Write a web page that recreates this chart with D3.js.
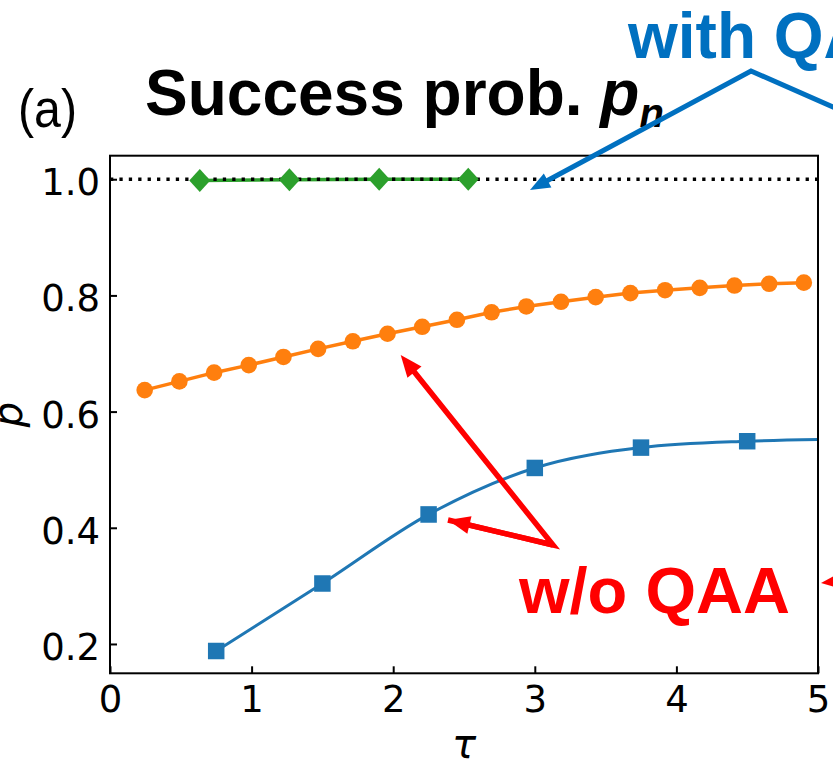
<!DOCTYPE html>
<html>
<head>
<meta charset="utf-8">
<script src="https://cdn.jsdelivr.net/npm/d3@7"></script>
<style>
  body { margin: 0; background: #fff; }
  svg { display: block; }
</style>
</head>
<body>
<svg id="chart" width="833" height="765"></svg>
<script>
// values
let tauGreen = [0.634, 1.267, 1.901, 2.530];
let pGreen = [0.998, 0.999, 1.0, 1.0];

let tauOrange = [0.245, 0.49, 0.735, 0.98, 1.225, 1.47, 1.715, 1.96, 2.205, 2.45,
  2.695, 2.94, 3.185, 3.43, 3.675, 3.92, 4.165, 4.41, 4.655, 4.9];
let pOrange = [0.637, 0.652, 0.667, 0.680, 0.694, 0.708, 0.721, 0.734, 0.746, 0.758,
  0.771, 0.781, 0.789, 0.797, 0.804, 0.809, 0.813, 0.817, 0.820, 0.822];

let tauBlue = [0.75, 1.5, 2.25, 3.0, 3.75, 4.5];
let pBlue = [0.188, 0.304, 0.423, 0.503, 0.538, 0.549];
// blue curve keeps going to the right frame
let tauBlueLine = [0.75, 1.5, 2.25, 3.0, 3.75, 4.5, 5.0];
let pBlueLine = [0.188, 0.304, 0.423, 0.503, 0.538, 0.549, 0.552];

let xTicks = [0, 1, 2, 3, 4, 5];
let yTicks = [0.2, 0.4, 0.6, 0.8, 1.0];

let plot = { left: 110, right: 818, top: 155.7, bottom: 673.3 };

let xScale = d3.scaleLinear().domain([0, 5]).range([plot.left, plot.right]);
let yScale = d3.scaleLinear().domain([0.1495, 1.0405]).range([plot.bottom, plot.top]);

let svg = d3.select("#chart");
svg.append("rect").attr("width", 833).attr("height", 765).style("fill", "#fff");

svg.append("defs").append("clipPath")
  .attr("id", "clip")
  .append("rect")
  .attr("x", plot.left).attr("y", plot.top)
  .attr("width", plot.right - plot.left).attr("height", plot.bottom - plot.top);

let zip = (xs, ys) => xs.map((x, i) => ({ t: x, p: ys[i] }));

let line = d3.line()
  .x(function(d) { return xScale(d.t); })
  .y(function(d) { return yScale(d.p); });

let curve = d3.line()
  .x(function(d) { return xScale(d.t); })
  .y(function(d) { return yScale(d.p); })
  .curve(d3.curveMonotoneX);

let graph = svg.append("g").attr("clip-path", "url(#clip)");

// blue (square)
graph.append("path")
  .attr("d", curve(zip(tauBlueLine, pBlueLine)))
  .style("fill", "none").style("stroke", "#1f77b4").style("stroke-width", 3);
graph.selectAll(".sq").data(zip(tauBlue, pBlue)).enter()
  .append("path")
  .attr("transform", function(d) { return "translate(" + xScale(d.t) + "," + yScale(d.p) + ")"; })
  .attr("d", d3.symbol().type(d3.symbolSquare).size(16.5 * 16.5))
  .style("fill", "#1f77b4");

// orange (circle)
graph.append("path")
  .attr("d", line(zip(tauOrange, pOrange)))
  .style("fill", "none").style("stroke", "#ff7f0e").style("stroke-width", 3.5);
graph.selectAll(".ci").data(zip(tauOrange, pOrange)).enter()
  .append("circle")
  .attr("cx", function(d) { return xScale(d.t); })
  .attr("cy", function(d) { return yScale(d.p); })
  .attr("r", 8.3)
  .style("fill", "#ff7f0e");

// green (diamond)
graph.append("path")
  .attr("d", line(zip(tauGreen, pGreen)))
  .style("fill", "none").style("stroke", "#2ca02c").style("stroke-width", 3.5);

// dotted reference at p = 1
graph.append("line")
  .attr("x1", plot.left).attr("x2", plot.right)
  .attr("y1", yScale(1)).attr("y2", yScale(1))
  .style("stroke", "#000").style("stroke-width", 3.3)
  .style("stroke-dasharray", "3.3,6.1");

graph.selectAll(".di").data(zip(tauGreen, pGreen)).enter()
  .append("path")
  .attr("transform", function(d) { return "translate(" + xScale(d.t) + "," + yScale(d.p) + ")"; })
  .attr("d", "M0,-11.5L10.5,0L0,11.5L-10.5,0Z")
  .style("fill", "#2ca02c");

// axes, ticks inside
let xAxis = d3.axisBottom(xScale).tickValues(xTicks).tickFormat(d3.format("d"))
  .tickSizeInner(-7).tickSizeOuter(0).tickPadding(12);
let yAxis = d3.axisLeft(yScale).tickValues(yTicks).tickFormat(d3.format(".1f"))
  .tickSizeInner(-7).tickSizeOuter(0).tickPadding(10);

let gx = svg.append("g").attr("transform", "translate(0," + plot.bottom + ")").call(xAxis);
let gy = svg.append("g").attr("transform", "translate(" + plot.left + ",0)").call(yAxis);
[gx, gy].forEach(function(g) {
  g.select(".domain").remove();
  g.selectAll(".tick line").style("stroke", "#000").style("stroke-width", 2);
  g.selectAll(".tick text")
    .style("font-family", "'DejaVu Sans'")
    .style("font-size", "37px")
    .style("fill", "#000");
});
gy.selectAll(".tick text").attr("dy", "0.42em");

svg.append("rect")
  .attr("x", plot.left).attr("y", plot.top)
  .attr("width", plot.right - plot.left).attr("height", plot.bottom - plot.top)
  .style("fill", "none").style("stroke", "#000").style("stroke-width", 2);

// axis labels
svg.append("text")
  .attr("transform", "translate(22," + ((plot.top + plot.bottom) / 2) + ") rotate(-90)")
  .attr("text-anchor", "middle")
  .style("font-family", "'DejaVu Sans'").style("font-style", "italic")
  .style("font-size", "40px")
  .text("p");
svg.append("text")
  .attr("x", (plot.left + plot.right) / 2).attr("y", 758)
  .attr("text-anchor", "middle")
  .style("font-family", "'DejaVu Sans'").style("font-style", "italic")
  .style("font-size", "40px")
  .text("τ");

// panel label and title
svg.append("text")
  .attr("x", 18).attr("y", 127)
  .attr("textLength", 59).attr("lengthAdjust", "spacingAndGlyphs")
  .style("font-family", "'Liberation Sans', Arial, sans-serif")
  .style("font-size", "54px")
  .text("(a)");

let title = svg.append("text")
  .attr("x", 145).attr("y", 115)
  .style("font-family", "'Liberation Sans', Arial, sans-serif")
  .style("font-weight", "bold")
  .style("font-size", "64px");
title.append("tspan").text("Success prob. ");
title.append("tspan").style("font-style", "italic").text("p");
title.append("tspan").style("font-style", "italic").style("font-size", "40px")
  .attr("dy", 12).text("n");

// annotations
function arrow(points, color, width, headLen, headHalf) {
  let n = points.length;
  let tip = points[n - 1], prev = points[n - 2];
  let dx = tip[0] - prev[0], dy = tip[1] - prev[1];
  let len = Math.sqrt(dx * dx + dy * dy);
  let ux = dx / len, uy = dy / len;
  let base = [tip[0] - ux * headLen, tip[1] - uy * headLen];
  let pts = points.slice(0, n - 1).concat([[tip[0] - ux * headLen * 0.6, tip[1] - uy * headLen * 0.6]]);
  svg.append("path")
    .attr("d", d3.line()(pts))
    .style("fill", "none").style("stroke", color).style("stroke-width", width)
    .style("stroke-linejoin", "miter");
  svg.append("path")
    .attr("d", d3.line()([
      tip,
      [base[0] - uy * headHalf, base[1] + ux * headHalf],
      [base[0] + uy * headHalf, base[1] - ux * headHalf]
    ]) + "Z")
    .style("fill", color);
}

let blueNote = "#0070c0";
let redNote = "#ff0000";

arrow([[890, 132], [751, 71], [530, 190]], blueNote, 5, 20, 8);

arrow([[448, 520], [553, 545], [400.7, 355]], redNote, 5.5, 22, 9);
arrow([[553, 545], [448, 520]], redNote, 5.5, 22, 9);
arrow([[900, 574], [821, 583]], redNote, 5.5, 22, 9);

svg.append("text")
  .attr("x", 628).attr("y", 58)
  .style("font-family", "'Liberation Sans', Arial, sans-serif")
  .style("font-weight", "bold").style("font-size", "64px")
  .style("fill", blueNote)
  .text("with QAA");

svg.append("text")
  .attr("x", 519).attr("y", 613)
  .style("font-family", "'Liberation Sans', Arial, sans-serif")
  .style("font-weight", "bold").style("font-size", "65px")
  .style("fill", redNote)
  .text("w/o QAA");
</script>
</body>
</html>
